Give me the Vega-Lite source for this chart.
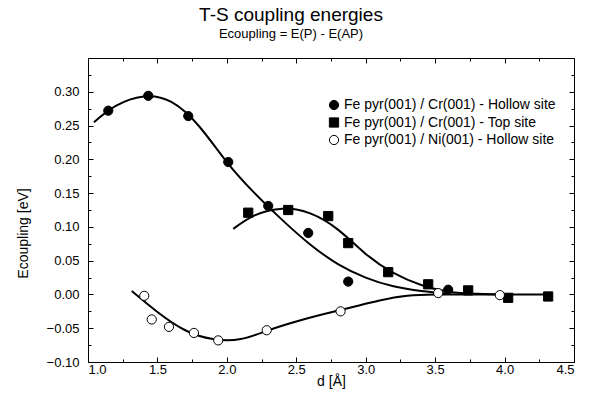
{
  "$schema": "https://vega.github.io/schema/vega-lite/v6.json",
  "width": 486,
  "height": 304,
  "autosize": {"type": "none"},
  "padding": {"left": 88, "top": 58, "right": 16, "bottom": 36},
  "background": "white",
  "title": {
    "text": "T-S coupling energies",
    "subtitle": "Ecoupling = E(P) - E(AP)",
    "anchor": "middle",
    "dx": -40,
    "offset": 17,
    "font": "Liberation Sans",
    "fontSize": 19,
    "fontWeight": "normal",
    "color": "black",
    "subtitleFont": "Liberation Sans",
    "subtitleFontSize": 13,
    "subtitleColor": "black",
    "subtitlePadding": 3
  },
  "config": {
    "view": {"stroke": "black", "strokeWidth": 1},
    "axis": {
      "domain": false,
      "grid": false,
      "tickColor": "black",
      "tickWidth": 1,
      "labelColor": "black",
      "titleColor": "black",
      "labelFont": "Liberation Sans",
      "titleFont": "Liberation Sans",
      "labelFontSize": 13,
      "titleFontSize": 14,
      "titleFontWeight": "normal"
    },
    "legend": {
      "title": null,
      "orient": "none",
      "legendX": 239,
      "legendY": 40,
      "padding": 0,
      "labelFont": "Liberation Sans",
      "labelFontSize": 14,
      "labelColor": "black",
      "labelOffset": 3,
      "rowPadding": 3.5,
      "symbolSize": 85,
      "symbolStrokeWidth": 1,
      "labelLimit": 300
    }
  },
  "datasets": {
    "points": [
      {"series": "Fe pyr(001) / Cr(001) - Hollow site", "d": 1.146, "e": 0.272},
      {"series": "Fe pyr(001) / Cr(001) - Hollow site", "d": 1.434, "e": 0.294},
      {"series": "Fe pyr(001) / Cr(001) - Hollow site", "d": 1.722, "e": 0.264},
      {"series": "Fe pyr(001) / Cr(001) - Hollow site", "d": 2.010, "e": 0.196},
      {"series": "Fe pyr(001) / Cr(001) - Hollow site", "d": 2.298, "e": 0.131},
      {"series": "Fe pyr(001) / Cr(001) - Hollow site", "d": 2.586, "e": 0.091},
      {"series": "Fe pyr(001) / Cr(001) - Hollow site", "d": 2.874, "e": 0.019},
      {"series": "Fe pyr(001) / Cr(001) - Hollow site", "d": 3.594, "e": 0.007},
      {"series": "Fe pyr(001) / Cr(001) - Top site", "d": 2.154, "e": 0.121},
      {"series": "Fe pyr(001) / Cr(001) - Top site", "d": 2.442, "e": 0.125},
      {"series": "Fe pyr(001) / Cr(001) - Top site", "d": 2.730, "e": 0.116},
      {"series": "Fe pyr(001) / Cr(001) - Top site", "d": 2.874, "e": 0.076},
      {"series": "Fe pyr(001) / Cr(001) - Top site", "d": 3.162, "e": 0.033},
      {"series": "Fe pyr(001) / Cr(001) - Top site", "d": 3.450, "e": 0.015},
      {"series": "Fe pyr(001) / Cr(001) - Top site", "d": 3.738, "e": 0.006},
      {"series": "Fe pyr(001) / Cr(001) - Top site", "d": 4.026, "e": -0.005},
      {"series": "Fe pyr(001) / Cr(001) - Top site", "d": 4.314, "e": -0.003},
      {"series": "Fe pyr(001) / Ni(001) - Hollow site", "d": 1.405, "e": -0.002},
      {"series": "Fe pyr(001) / Ni(001) - Hollow site", "d": 1.459, "e": -0.037},
      {"series": "Fe pyr(001) / Ni(001) - Hollow site", "d": 1.583, "e": -0.048},
      {"series": "Fe pyr(001) / Ni(001) - Hollow site", "d": 1.763, "e": -0.057},
      {"series": "Fe pyr(001) / Ni(001) - Hollow site", "d": 1.938, "e": -0.068},
      {"series": "Fe pyr(001) / Ni(001) - Hollow site", "d": 2.287, "e": -0.053},
      {"series": "Fe pyr(001) / Ni(001) - Hollow site", "d": 2.819, "e": -0.025},
      {"series": "Fe pyr(001) / Ni(001) - Hollow site", "d": 3.522, "e": 0.002},
      {"series": "Fe pyr(001) / Ni(001) - Hollow site", "d": 3.966, "e": -0.001}
    ],
    "curves": [
      {"curve": "A", "d": 1.043, "e": 0.255},
      {"curve": "A", "d": 1.2, "e": 0.279},
      {"curve": "A", "d": 1.4, "e": 0.293},
      {"curve": "A", "d": 1.6, "e": 0.285},
      {"curve": "A", "d": 1.8, "e": 0.249},
      {"curve": "A", "d": 2.0, "e": 0.196},
      {"curve": "A", "d": 2.2, "e": 0.150},
      {"curve": "A", "d": 2.4, "e": 0.110},
      {"curve": "A", "d": 2.6, "e": 0.074},
      {"curve": "A", "d": 2.8, "e": 0.045},
      {"curve": "A", "d": 3.0, "e": 0.025},
      {"curve": "A", "d": 3.2, "e": 0.012},
      {"curve": "A", "d": 3.4, "e": 0.005},
      {"curve": "A", "d": 3.6, "e": 0.001},
      {"curve": "B", "d": 2.046, "e": 0.097},
      {"curve": "B", "d": 2.2, "e": 0.117},
      {"curve": "B", "d": 2.4, "e": 0.127},
      {"curve": "B", "d": 2.6, "e": 0.120},
      {"curve": "B", "d": 2.8, "e": 0.096},
      {"curve": "B", "d": 3.0, "e": 0.060},
      {"curve": "B", "d": 3.2, "e": 0.032},
      {"curve": "B", "d": 3.4, "e": 0.014},
      {"curve": "B", "d": 3.6, "e": 0.004},
      {"curve": "B", "d": 3.8, "e": 0.001},
      {"curve": "B", "d": 4.0, "e": 0.0},
      {"curve": "B", "d": 4.31, "e": 0.0},
      {"curve": "C", "d": 1.315, "e": 0.005},
      {"curve": "C", "d": 1.5, "e": -0.026},
      {"curve": "C", "d": 1.7, "e": -0.053},
      {"curve": "C", "d": 1.9, "e": -0.066},
      {"curve": "C", "d": 2.1, "e": -0.066},
      {"curve": "C", "d": 2.3, "e": -0.053},
      {"curve": "C", "d": 2.5, "e": -0.040},
      {"curve": "C", "d": 2.7, "e": -0.029},
      {"curve": "C", "d": 2.9, "e": -0.019},
      {"curve": "C", "d": 3.1, "e": -0.009},
      {"curve": "C", "d": 3.3, "e": -0.002},
      {"curve": "C", "d": 3.5, "e": 0.0},
      {"curve": "C", "d": 3.75, "e": 0.0},
      {"curve": "C", "d": 4.0, "e": 0.0}
    ]
  },
  "layer": [
    {
      "data": {"name": "curves"},
      "transform": [{"filter": "datum.curve == 'A'"}],
      "mark": {"type": "line", "interpolate": "natural", "color": "black", "strokeWidth": 2},
      "encoding": {
        "x": {"field": "d", "type": "quantitative", "scale": {"domain": [1, 4.5], "nice": false, "zero": false},
          "axis": {"orient": "bottom", "values": [1, 1.5, 2, 2.5, 3, 3.5, 4, 4.5], "format": ".1f", "tickSize": -5, "labelPadding": 6, "title": "d [Å]", "titleY": 23, "titleBaseline": "alphabetic"}},
        "y": {"field": "e", "type": "quantitative", "scale": {"domain": [-0.1, 0.35], "nice": false, "zero": false},
          "axis": {"orient": "left", "values": [-0.1, -0.05, 0, 0.05, 0.1, 0.15, 0.2, 0.25, 0.3], "format": ".2f", "tickSize": -5, "labelPadding": 14, "title": "Ecoupling [eV]", "titleX": -65, "titleY": 175, "titleAngle": -90, "titleBaseline": "middle", "titleAlign": "center"}}
      }
    },
    {
      "data": {"name": "curves"},
      "transform": [{"filter": "datum.curve == 'B'"}],
      "mark": {"type": "line", "interpolate": "natural", "color": "black", "strokeWidth": 2},
      "encoding": {
        "x": {"field": "d", "type": "quantitative", "scale": {"domain": [1, 4.5], "nice": false, "zero": false},
          "axis": {"orient": "bottom", "values": [1.25, 1.75, 2.25, 2.75, 3.25, 3.75, 4.25], "labels": false, "tickSize": -3, "title": null}},
        "y": {"field": "e", "type": "quantitative", "scale": {"domain": [-0.1, 0.35], "nice": false, "zero": false},
          "axis": {"orient": "left", "values": [-0.075, -0.025, 0.025, 0.075, 0.125, 0.175, 0.225, 0.275, 0.325], "labels": false, "tickSize": -3, "title": null}}
      }
    },
    {
      "data": {"name": "curves"},
      "transform": [{"filter": "datum.curve == 'C'"}],
      "mark": {"type": "line", "interpolate": "natural", "color": "black", "strokeWidth": 2},
      "encoding": {
        "x": {"field": "d", "type": "quantitative", "scale": {"domain": [1, 4.5], "nice": false, "zero": false},
          "axis": {"orient": "top", "values": [1, 1.5, 2, 2.5, 3, 3.5, 4, 4.5], "labels": false, "tickSize": -5, "title": null}},
        "y": {"field": "e", "type": "quantitative", "scale": {"domain": [-0.1, 0.35], "nice": false, "zero": false},
          "axis": {"orient": "right", "values": [-0.1, -0.05, 0, 0.05, 0.1, 0.15, 0.2, 0.25, 0.3], "labels": false, "tickSize": -5, "title": null}}
      }
    },
    {
      "data": {"name": "points"},
      "mark": {"type": "point", "filled": true, "strokeWidth": 1, "size": 85, "opacity": 1},
      "encoding": {
        "x": {"field": "d", "type": "quantitative", "scale": {"domain": [1, 4.5], "nice": false, "zero": false},
          "axis": {"orient": "top", "values": [1.25, 1.75, 2.25, 2.75, 3.25, 3.75, 4.25], "labels": false, "tickSize": -3, "title": null}},
        "y": {"field": "e", "type": "quantitative", "scale": {"domain": [-0.1, 0.35], "nice": false, "zero": false},
          "axis": {"orient": "right", "values": [-0.075, -0.025, 0.025, 0.075, 0.125, 0.175, 0.225, 0.275, 0.325], "labels": false, "tickSize": -3, "title": null}},
        "shape": {"field": "series", "type": "nominal",
          "scale": {"domain": ["Fe pyr(001) / Cr(001) - Hollow site", "Fe pyr(001) / Cr(001) - Top site", "Fe pyr(001) / Ni(001) - Hollow site"], "range": ["circle", "square", "circle"]}},
        "fill": {"field": "series", "type": "nominal",
          "scale": {"domain": ["Fe pyr(001) / Cr(001) - Hollow site", "Fe pyr(001) / Cr(001) - Top site", "Fe pyr(001) / Ni(001) - Hollow site"], "range": ["black", "black", "white"]}},
        "stroke": {"field": "series", "type": "nominal",
          "scale": {"domain": ["Fe pyr(001) / Cr(001) - Hollow site", "Fe pyr(001) / Cr(001) - Top site", "Fe pyr(001) / Ni(001) - Hollow site"], "range": ["black", "black", "black"]}}
      }
    }
  ],
  "resolve": {"axis": {"x": "independent", "y": "independent"}}
}
